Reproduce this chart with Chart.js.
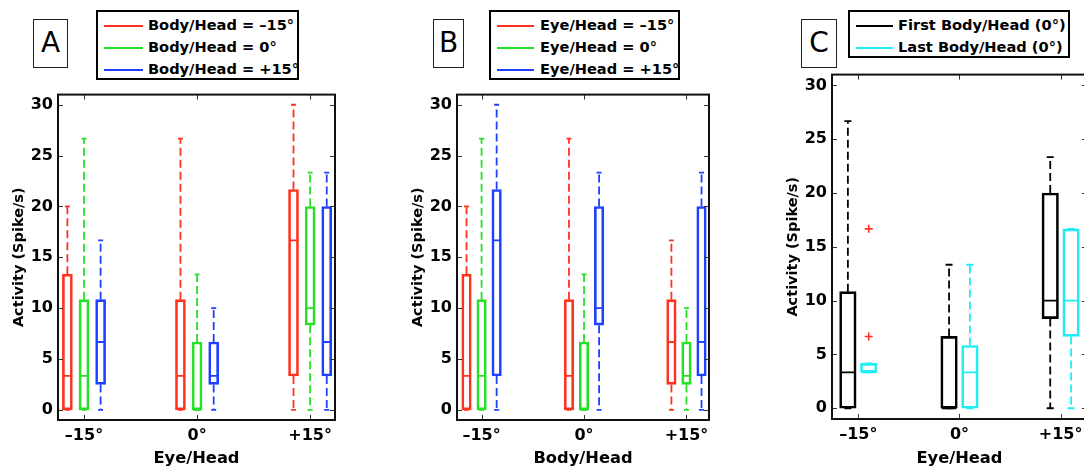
<!DOCTYPE html>
<html>
<head>
<meta charset="utf-8">
<script src="https://cdn.jsdelivr.net/npm/chart.js@4.4.1/dist/chart.umd.min.js"></script>
<style>
  html, body { margin: 0; padding: 0; background: #fff; overflow: hidden; }
  body { width: 1084px; height: 470px; position: relative; font-family: "DejaVu Sans", sans-serif; }
  .panel { position: absolute; }
  .tag { position: absolute; box-sizing: border-box; border: 1.5px solid #222; font-size: 28px;
         text-align: center; line-height: 46px; height: 49px; top: 19px; }
  .legend { position: absolute; box-sizing: border-box; border: 2px solid #000; top: 10px;
            padding-top: 2px; font-weight: bold; font-size: 14.6px; background: #fff; }
  .legend div { height: 22px; line-height: 22px; white-space: nowrap; }
  .legend i { display: inline-block; height: 2px; vertical-align: middle; }
</style>
</head>
<body>

<div class="tag" style="left:33px;width:35px">A</div>
<div class="legend" id="legend-a" style="left:96px;width:203px;height:70px"></div>
<div class="panel" style="left:0px;top:80px"><canvas id="chart-a" width="345" height="390"></canvas></div>

<div class="tag" style="left:433px;width:31px">B</div>
<div class="legend" id="legend-b" style="left:489px;width:191px;height:70px"></div>
<div class="panel" style="left:399px;top:80px"><canvas id="chart-b" width="321" height="390"></canvas></div>

<div class="tag" style="left:801px;width:36px">C</div>
<div class="legend" id="legend-c" style="left:848px;width:222px;height:48px"></div>
<div class="panel" style="left:774px;top:60px"><canvas id="chart-c" width="322" height="410"></canvas></div>

<script>
// ---- groups and ticks ----
const groupX = [1, 2, 3];
const groupLabels = ['–15°', '0°', '+15°'];
const yTicks = [0, 5, 10, 15, 20, 25, 30];

// each box is [lower whisker, Q1, median, Q3, upper whisker], one per group

// A: grouped by Eye/Head, one series per Body/Head
const aBodyM15 = [[0, 0, 3.33, 13.33, 20], [0, 0, 3.33, 10.83, 26.67], [0, 3.33, 16.67, 21.67, 30]];
const aBody0   = [[0, 0, 3.33, 10.83, 26.67], [0, 0, 0, 6.67, 13.33], [0, 8.33, 10, 20, 23.33]];
const aBodyP15 = [[0, 2.5, 6.67, 10.83, 16.67], [0, 2.5, 3.33, 6.67, 10], [0, 3.33, 6.67, 20, 23.33]];
const legendA = ['Body/Head = –15°', 'Body/Head = 0°', 'Body/Head = +15°'];

// B: grouped by Body/Head, one series per Eye/Head
const bEyeM15 = [[0, 0, 3.33, 13.33, 20], [0, 0, 3.33, 10.83, 26.67], [0, 2.5, 6.67, 10.83, 16.67]];
const bEye0   = [[0, 0, 3.33, 10.83, 26.67], [0, 0, 0, 6.67, 13.33], [0, 2.5, 3.33, 6.67, 10]];
const bEyeP15 = [[0, 3.33, 16.67, 21.67, 30], [0, 8.33, 10, 20, 23.33], [0, 3.33, 6.67, 20, 23.33]];
const legendB = ['Eye/Head = –15°', 'Eye/Head = 0°', 'Eye/Head = +15°'];

// C: first vs last Body/Head (0°) block
const cFirst = [[0, 0, 3.33, 10.83, 26.67], [0, 0, 0, 6.67, 13.33], [0, 8.33, 10, 20, 23.33]];
const cLast  = [[3.33, 3.33, 3.33, 4.17, 4.17], [0, 0, 3.33, 5.83, 13.33], [0, 6.67, 10, 16.67, 16.67]];
const cLastOutliers = [[6.67, 16.67], [], []];
const legendC = ['First Body/Head (0°)', 'Last Body/Head (0°)'];

const RED = '#ff3220', GREEN = '#26e026', BLUE = '#2040ff', CYAN = '#1eeef4', BLACK = '#000';

Chart.defaults.font.family = '"DejaVu Sans", sans-serif';
Chart.defaults.color = '#000';

// box outline frame with inward tick marks on all four sides
const boxFrame = {
  id: 'boxFrame',
  afterDraw(chart) {
    const { ctx, chartArea: a, scales: { x, y } } = chart;
    const len = 5;
    ctx.save();
    ctx.strokeStyle = '#333';
    ctx.lineWidth = 1;
    ctx.beginPath();
    x.ticks.forEach(t => {
      const px = Math.round(x.getPixelForValue(t.value)) + 0.5;
      ctx.moveTo(px, a.bottom); ctx.lineTo(px, a.bottom - len);
      ctx.moveTo(px, a.top); ctx.lineTo(px, a.top + len);
    });
    y.ticks.forEach(t => {
      const py = Math.round(y.getPixelForValue(t.value)) + 0.5;
      ctx.moveTo(a.left, py); ctx.lineTo(a.left + len, py);
      ctx.moveTo(a.right, py); ctx.lineTo(a.right - len, py);
    });
    ctx.stroke();
    ctx.strokeStyle = '#111';
    ctx.lineWidth = 2;
    ctx.strokeRect(a.left, a.top, a.right - a.left, a.bottom - a.top);
    ctx.restore();
  }
};

function buildBoxes({ series, colors, shifts, boxPx, capPx, outliers }) {
  const ds = [];
  series.forEach((boxes, s) => {
    const col = colors[s];
    const xs = groupX.map(g => g + shifts[s]);
    // Q1..Q3 box
    ds.push({
      type: 'bar',
      data: boxes.map((b, i) => ({ x: xs[i], y: [b[1], b[3]] })),
      backgroundColor: 'rgba(0,0,0,0)', borderColor: col, borderWidth: 2,
      borderSkipped: false, grouped: false, barThickness: boxPx
    });
    // dashed whiskers
    const whisk = [];
    boxes.forEach((b, i) => {
      whisk.push({ x: xs[i], y: b[3] }, { x: xs[i], y: b[4] }, { x: xs[i], y: null },
                 { x: xs[i], y: b[1] }, { x: xs[i], y: b[0] }, { x: xs[i], y: null });
    });
    ds.push({
      type: 'line', data: whisk, borderColor: col, borderWidth: 1.8,
      borderDash: [8, 4], pointRadius: 0, spanGaps: false, fill: false
    });
    // whisker caps
    ds.push({
      type: 'line', showLine: false,
      data: boxes.flatMap((b, i) => [{ x: xs[i], y: b[0] }, { x: xs[i], y: b[4] }]),
      pointStyle: 'line', pointRadius: capPx, pointBorderColor: col, pointBorderWidth: 1.8
    });
    // medians
    ds.push({
      type: 'line', showLine: false,
      data: boxes.map((b, i) => ({ x: xs[i], y: b[2] })),
      pointStyle: 'line', pointRadius: boxPx / 2 - 1, pointBorderColor: col, pointBorderWidth: 1.8
    });
    if (outliers && outliers[s]) {
      const pts = [];
      outliers[s].forEach((vals, i) => vals.forEach(v => pts.push({ x: xs[i], y: v })));
      ds.push({
        type: 'line', showLine: false, data: pts,
        pointStyle: 'cross', pointRadius: 4, pointBorderColor: RED, pointBorderWidth: 1.6
      });
    }
  });
  return ds;
}

function makePanel(id, cfg) {
  return new Chart(document.getElementById(id), {
    type: 'bar',
    data: { datasets: buildBoxes(cfg) },
    options: {
      responsive: false,
      animation: false,
      events: [],
      layout: { padding: cfg.padding },
      plugins: { legend: { display: false }, tooltip: { enabled: false } },
      scales: {
        x: {
          type: 'linear', min: cfg.xMin, max: cfg.xMax, offset: false,
          grid: { display: false, drawTicks: false }, border: { display: false },
          afterBuildTicks: s => { s.ticks = groupX.map(v => ({ value: v })); },
          afterFit: s => { s.height = cfg.xHeight; },
          ticks: { autoSkip: false, padding: 6, font: { size: 16, weight: 'bold' },
                   callback: (v, i) => groupLabels[i] },
          title: { display: true, text: cfg.xTitle, font: { size: 16.3, weight: 'bold' },
                   padding: { top: 0, bottom: 1 } }
        },
        y: {
          type: 'linear', min: -1, max: 31,
          grid: { display: false, drawTicks: false }, border: { display: false },
          afterBuildTicks: s => { s.ticks = yTicks.map(v => ({ value: v })); },
          afterFit: s => { s.width = 58; },
          ticks: { padding: 5, font: { size: 16, weight: 'bold' } },
          title: { display: true, text: 'Activity (Spike/s)', font: { size: 14.5, weight: 'bold' },
                   padding: { top: 11, bottom: 0 } }
        }
      }
    },
    plugins: [boxFrame]
  });
}

function makeLegend(id, labels, colors, pad, lineW, gap) {
  const el = document.getElementById(id);
  el.innerHTML = labels.map((t, i) =>
    `<div style="padding-left:${pad}px"><i style="width:${lineW}px;margin-right:${gap}px;background:${colors[i]}"></i>${t}</div>`
  ).join('');
}

makeLegend('legend-a', legendA, [RED, GREEN, BLUE], 6, 39, 5);
makeLegend('legend-b', legendB, [RED, GREEN, BLUE], 6, 37, 6);
makeLegend('legend-c', legendC, [BLACK, CYAN], 6, 37, 5);

makePanel('chart-a', {
  series: [aBodyM15, aBody0, aBodyP15], colors: [RED, GREEN, BLUE],
  shifts: [-0.147, 0, 0.147], boxPx: 10, capPx: 2.5,
  xMin: 0.77, xMax: 3.22, xTitle: 'Eye/Head', xHeight: 50,
  padding: { top: 13, right: 10, left: 0, bottom: 0 }
});

makePanel('chart-b', {
  series: [bEyeM15, bEye0, bEyeP15], colors: [RED, GREEN, BLUE],
  shifts: [-0.147, 0, 0.147], boxPx: 9.5, capPx: 2.5,
  xMin: 0.76, xMax: 3.22, xTitle: 'Body/Head', xHeight: 50,
  padding: { top: 13, right: 11, left: 0, bottom: 0 }
});

makePanel('chart-c', {
  series: [cFirst, cLast], colors: [BLACK, CYAN],
  shifts: [-0.103, 0.103], boxPx: 16.5, capPx: 3.5, outliers: [null, cLastOutliers],
  xMin: 0.74, xMax: 3.26, xTitle: 'Eye/Head', xHeight: 51,
  padding: { top: 11, right: 7, left: 0, bottom: 0 }
});
</script>
</body>
</html>
